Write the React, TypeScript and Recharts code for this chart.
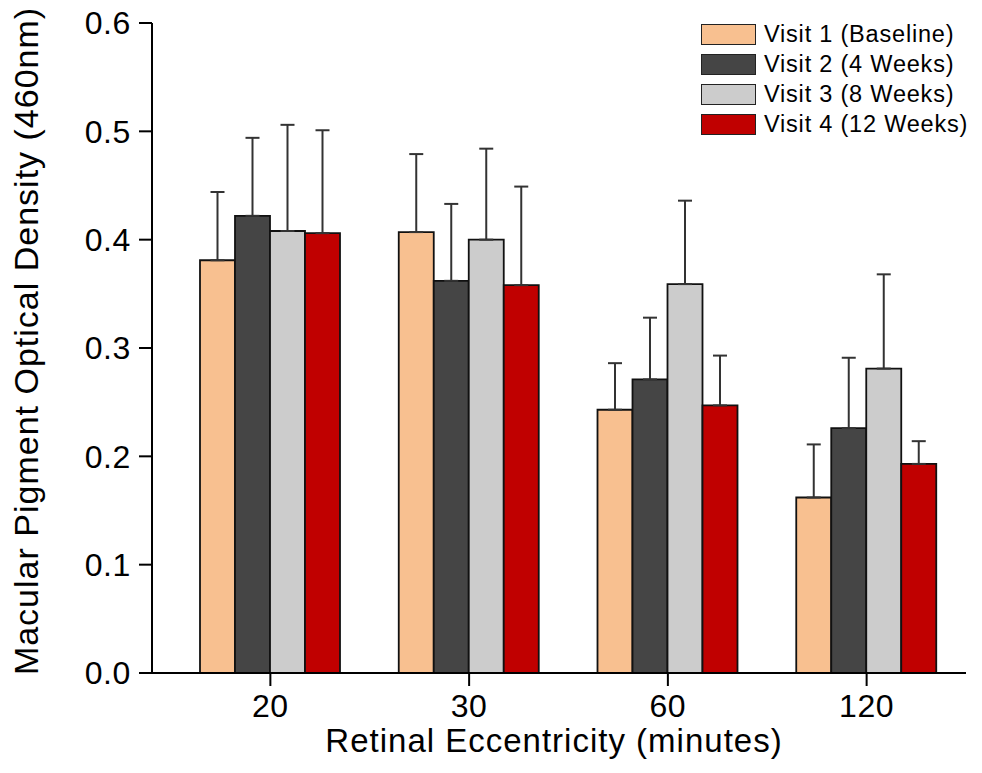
import * as React from "react"
import {
  BarChart,
  Bar,
  XAxis,
  YAxis,
  ErrorBar,
  Legend,
  Label,
} from "recharts"

const categories = ["20", "30", "60", "120"]
const seriesNames = [
  "Visit 1 (Baseline)",
  "Visit 2 (4 Weeks)",
  "Visit 3 (8 Weeks)",
  "Visit 4 (12 Weeks)",
]
const visit1 = [0.381, 0.407, 0.243, 0.162]
const visit2 = [0.422, 0.362, 0.271, 0.226]
const visit3 = [0.408, 0.4, 0.359, 0.281]
const visit4 = [0.406, 0.358, 0.247, 0.193]
// upper error only (SD)
const visit1Err = [0.063, 0.072, 0.043, 0.049]
const visit2Err = [0.072, 0.071, 0.057, 0.065]
const visit3Err = [0.098, 0.084, 0.077, 0.087]
const visit4Err = [0.095, 0.091, 0.046, 0.021]
const yTicks = [0, 0.1, 0.2, 0.3, 0.4, 0.5, 0.6]

const colors = ["#F8C090", "#454545", "#CCCCCC", "#C00000"]
const FONT = "'Liberation Sans', Arial, sans-serif"

const data = categories.map((c, i) => ({
  ecc: c,
  v1: visit1[i],
  v2: visit2[i],
  v3: visit3[i],
  v4: visit4[i],
  e1: [0, visit1Err[i]],
  e2: [0, visit2Err[i]],
  e3: [0, visit3Err[i]],
  e4: [0, visit4Err[i]],
}))

const axisLine = { stroke: "#000", strokeWidth: 2 }
const tickStyle = { fill: "#000", fontSize: 32, fontFamily: FONT, letterSpacing: 0.6 }

function LegendBox(props: any) {
  const payload = props.payload || []
  return (
    <div style={{ fontFamily: FONT, fontSize: 23.5, letterSpacing: 0.8, color: "#000" }}>
      {payload.map((p: any) => (
        <div
          key={p.value}
          style={{ display: "flex", alignItems: "center", height: 30, whiteSpace: "nowrap" }}
        >
          <div
            style={{
              width: 53,
              height: 19,
              background: p.color,
              border: "1.5px solid #222",
              marginRight: 8,
            }}
          />
          <span>{p.value}</span>
        </div>
      ))}
    </div>
  )
}

export default function App() {
  const keys = ["v1", "v2", "v3", "v4"]
  const errKeys = ["e1", "e2", "e3", "e4"]
  return (
    <div style={{ position: "absolute", left: 0, top: 0, background: "#fff" }}>
      <BarChart
        width={982}
        height={773}
        data={data}
        margin={{ top: 23, right: 16, bottom: 0, left: 0 }}
        barGap={0}
        barSize={35}
      >
        <XAxis
          dataKey="ecc"
          height={100}
          padding={{ left: 19, right: 0 }}
          axisLine={axisLine}
          tickLine={axisLine}
          tickSize={13}
          tickMargin={8}
          tick={tickStyle}
        >
          <Label
            position="insideBottom"
            offset={21}
            dx={-5}
            value="Retinal Eccentricity (minutes)"
            style={{ fontFamily: FONT, fontSize: 33, letterSpacing: 1, fill: "#000" }}
          />
        </XAxis>
        <YAxis
          width={152}
          domain={[0, 0.6]}
          ticks={yTicks}
          tickFormatter={(v: number) => v.toFixed(1)}
          axisLine={axisLine}
          tickLine={axisLine}
          tickSize={13}
          tickMargin={8}
          tick={tickStyle}
        >
          <Label
            content={({ viewBox }: any) => (
              <text
                x={0}
                y={0}
                transform={`translate(${viewBox.x + 38}, ${viewBox.y + viewBox.height / 2 - 7}) rotate(-90)`}
                textAnchor="middle"
                style={{ fontFamily: FONT, fontSize: 34, letterSpacing: 1, fill: "#000" }}
              >
                Macular Pigment Optical Density (460nm)
              </text>
            )}
          />
        </YAxis>
        <Legend
          layout="horizontal"
          verticalAlign="middle"
          align="center"
          wrapperStyle={{ top: 19, left: 701, width: "auto" }}
          content={<LegendBox />}
        />
        {keys.map((k, i) => (
          <Bar
            key={k}
            dataKey={k}
            name={seriesNames[i]}
            fill={colors[i]}
            stroke="#111"
            strokeWidth={1.8}
            isAnimationActive={false}
          >
            <ErrorBar
              dataKey={errKeys[i]}
              direction="y"
              width={7}
              stroke="#333"
              strokeWidth={2}
            />
          </Bar>
        ))}
      </BarChart>
    </div>
  )
}
